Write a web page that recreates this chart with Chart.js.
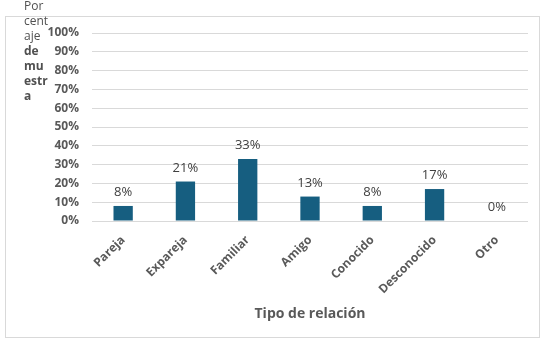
<!DOCTYPE html>
<html>
<head>
<meta charset="utf-8">
<script src="https://cdn.jsdelivr.net/npm/chart.js@4/dist/chart.umd.min.js"></script>
<style>
  html, body { margin: 0; padding: 0; background: #fff; }
  #wrap { width: 549px; height: 346px; }
</style>
</head>
<body>
<div id="wrap"><canvas id="myBarChart" width="549" height="346"></canvas></div>
<script>
// data
const categories = ['Pareja', 'Expareja', 'Familiar', 'Amigo', 'Conocido', 'Desconocido', 'Otro'];
const percentValues = [8, 21, 33, 13, 8, 17, 0];
const yTitleLines = ['Por', 'cent', 'aje', 'de', 'mu', 'estr', 'a'];
const yTitleBold = [false, false, false, true, true, true, true];
const xTitle = 'Tipo de relación';

(function(){
  Chart.defaults.font.family = '"Open Sans", "DejaVu Sans", sans-serif';
  Chart.defaults.color = '#595959';

  const canvas = document.getElementById('myBarChart');
  const ctx = canvas.getContext('2d');

  // white background + thin frame like the spreadsheet chart box
  const frame = {
    id: 'frame',
    beforeDraw(chart) {
      const c = chart.ctx;
      c.save();
      c.fillStyle = '#fff';
      c.fillRect(0, 0, chart.width, chart.height);
      c.strokeStyle = '#d9d9d9';
      c.lineWidth = 1;
      c.strokeRect(5.5, 16.5, 534, 321);
      c.restore();
    }
  };

  // wrapped y axis title, drawn line by line
  const yTitle = {
    id: 'yTitle',
    afterDraw(chart) {
      const c = chart.ctx;
      c.save();
      c.fillStyle = '#505050';
      c.textAlign = 'left';
      c.textBaseline = 'middle';
      yTitleLines.forEach((t, i) => {
        c.font = (yTitleBold[i] ? 'bold ' : '') + '12px "Open Sans", sans-serif';
        c.fillText(t, 24, 7 + i * 15);
      });
      c.restore();
    }
  };

  // value labels above the bars
  const barLabels = {
    id: 'barLabels',
    afterDatasetsDraw(chart) {
      const c = chart.ctx;
      const meta = chart.getDatasetMeta(0);
      c.save();
      c.fillStyle = '#404040';
      c.font = '13px "Open Sans", sans-serif';
      c.textAlign = 'center';
      c.textBaseline = 'bottom';
      meta.data.forEach((bar, i) => {
        c.fillText(percentValues[i] + '%', bar.x, bar.y - 7);
      });
      c.restore();
    }
  };

  new Chart(ctx, {
    type: 'bar',
    data: {
      labels: categories,
      datasets: [{
        label: 'Porcentaje de muestra',
        data: percentValues,
        backgroundColor: '#165e80',
        barPercentage: 0.31,
        categoryPercentage: 1
      }]
    },
    options: {
      responsive: false,
      animation: false,
      layout: { padding: { left: 0, top: 33, right: 21, bottom: 0 } },
      plugins: {
        legend: { display: false },
        tooltip: { enabled: false }
      },
      scales: {
        x: {
          grid: { display: false },
          border: { display: false },
          ticks: {
            maxRotation: 45,
            minRotation: 45,
            padding: 4,
            font: { size: 12, weight: 'bold' },
            color: '#595959'
          },
          title: {
            display: true,
            text: xTitle,
            font: { size: 14, weight: 'bold' },
            color: '#595959',
            padding: { top: 0, bottom: 24 }
          },
          afterFit(scale) { scale.height = 125; }
        },
        y: {
          min: 0,
          max: 100,
          ticks: {
            stepSize: 10,
            padding: 13,
            font: { size: 12, weight: 'bold' },
            color: '#595959',
            callback: v => v + '%'
          },
          grid: { color: '#d9d9d9', drawTicks: false },
          border: { display: false },
          afterFit(scale) { scale.width = 92; }
        }
      }
    },
    plugins: [frame, barLabels, yTitle]
  });
})();
</script>
</body>
</html>
